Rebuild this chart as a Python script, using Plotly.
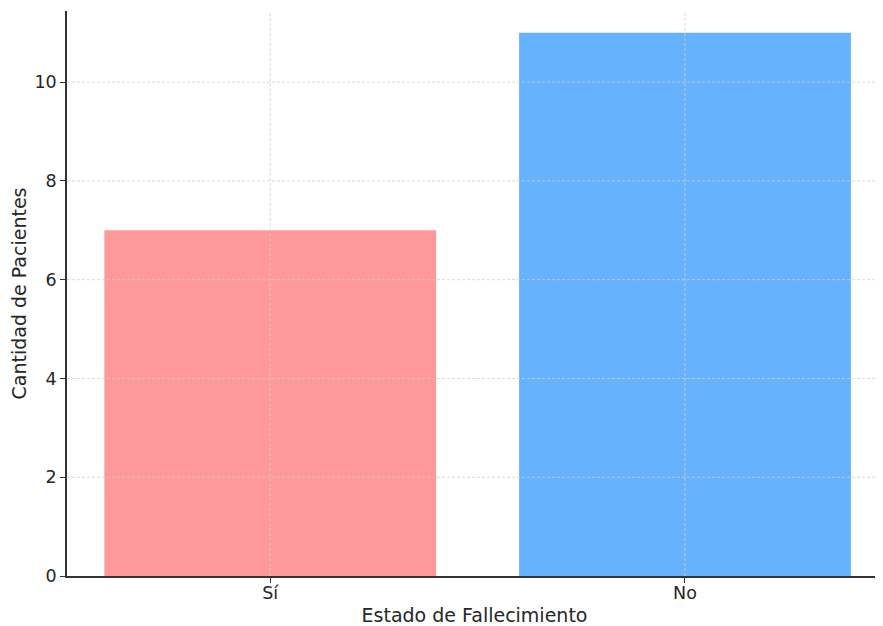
import plotly.graph_objects as go

categories = ["Sí", "No"]
counts = [7, 11]
colors = ["#FF9999", "#66B2FF"]
y_ticks = [0, 2, 4, 6, 8, 10]

fig = go.Figure()
fig.add_trace(go.Bar(x=categories, y=counts, marker=dict(color=colors, line=dict(width=0)), width=0.8))

grid = dict(color="#d0d0d0", width=0.8, dash="3px,2px")
for v in y_ticks[1:]:
    fig.add_hline(y=v, line=grid, layer="above")
for c in categories:
    fig.add_vline(x=c, line=grid, layer="above")

font_color = "#262626"
fig.update_layout(
    width=875, height=618,
    margin=dict(l=59, r=1, t=3, b=50),
    paper_bgcolor="white", plot_bgcolor="white",
    font=dict(family="DejaVu Sans", size=16, color=font_color),
    showlegend=False,
    bargap=0.2,
)
fig.update_xaxes(
    range=[-0.49, 1.475],
    showgrid=False, showline=True, linecolor="#333333", linewidth=1.5,
    ticks="outside", ticklen=5, tickwidth=1.2, tickcolor="#333333",
    ticklabelstandoff=-5,
    title_text="Estado de Fallecimiento", title_standoff=7,
    title_font=dict(family="DejaVu Sans", size=19, color=font_color),
    tickfont=dict(family="DejaVu Sans", size=17.5, color=font_color), zeroline=False,
)
fig.update_yaxes(
    range=[0, 11.44],
    tickvals=y_ticks,
    showgrid=False, showline=True, linecolor="#333333", linewidth=1.5,
    ticks="outside", ticklen=5, tickwidth=1.2, tickcolor="#333333",
    title_text="Cantidad de Pacientes", title_standoff=4,
    title_font=dict(family="DejaVu Sans", size=19, color=font_color),
    tickfont=dict(family="DejaVu Sans", size=17.5, color=font_color), zeroline=False,
)
fig.write_html("out.html")
